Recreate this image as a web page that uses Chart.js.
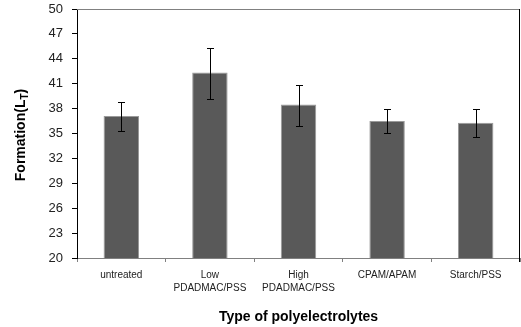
<!DOCTYPE html>
<html>
<head>
<meta charset="utf-8">
<script src="https://cdn.jsdelivr.net/npm/chart.js@4/dist/chart.umd.min.js"></script>
<style>
  html, body { margin: 0; padding: 0; background: #fff; }
  #wrap { width: 521px; height: 327px; }
</style>
</head>
<body>
<div id="wrap"><canvas id="grafico" width="521" height="327"></canvas></div>
<script>
  const categorias = [['untreated'], ['Low', 'PDADMAC/PSS'], ['High', 'PDADMAC/PSS'], ['CPAM/APAM'], ['Starch/PSS']];
  const formacao = [37.1, 42.35, 38.5, 36.5, 36.3];
  const erroMais = [1.7, 3.0, 2.3, 1.4, 1.6];
  const erroMenos = [1.75, 3.25, 2.6, 1.4, 1.75];
  const ticksY = [20, 23, 26, 29, 32, 35, 38, 41, 44, 47, 50];

  const fonte = '"Liberation Sans", Arial, sans-serif';

  // barras de erro e moldura, desenhadas a partir das escalas do Chart.js
  const extras = {
    id: 'extras',
    afterDatasetsDraw(chart) {
      const ctx = chart.ctx;
      const y = chart.scales.y;
      const meta = chart.getDatasetMeta(0);
      ctx.save();
      ctx.strokeStyle = '#000';
      ctx.lineWidth = 1;
      meta.data.forEach((bar, i) => {
        const x = Math.round(bar.x) + 0.5;
        const yTop = Math.round(y.getPixelForValue(formacao[i] + erroMais[i])) + 0.5;
        const yBot = Math.round(y.getPixelForValue(formacao[i] - erroMenos[i])) + 0.5;
        ctx.beginPath();
        ctx.moveTo(x, yTop); ctx.lineTo(x, yBot);
        ctx.moveTo(x - 3.5, yTop); ctx.lineTo(x + 3.5, yTop);
        ctx.moveTo(x - 3.5, yBot); ctx.lineTo(x + 3.5, yBot);
        ctx.stroke();
      });
      ctx.restore();
    },
    afterDraw(chart) {
      const ctx = chart.ctx;
      const a = chart.chartArea;
      ctx.save();
      ctx.lineWidth = 1;
      ctx.strokeStyle = '#808080';
      ctx.beginPath();
      ctx.moveTo(a.left, Math.round(a.top) + 0.5);
      ctx.lineTo(a.right, Math.round(a.top) + 0.5);
      ctx.stroke();
      ctx.strokeStyle = '#000';
      ctx.beginPath();
      ctx.moveTo(Math.round(a.right) - 0.5, a.top);
      ctx.lineTo(Math.round(a.right) - 0.5, a.bottom + 4);
      ctx.stroke();

      // titulo do eixo x
      ctx.fillStyle = '#000';
      ctx.font = 'bold 14px ' + fonte;
      ctx.textAlign = 'center';
      ctx.textBaseline = 'middle';
      ctx.fillText('Type of polyelectrolytes', (a.left + a.right) / 2, 317);

      // titulo do eixo y com indice T
      ctx.translate(20, 135);
      ctx.rotate(-Math.PI / 2);
      const p1 = 'Formation(L', sub = 'T', p2 = ')';
      ctx.font = 'bold 14px ' + fonte;
      const w1 = ctx.measureText(p1).width, w3 = ctx.measureText(p2).width;
      ctx.font = 'bold 10px ' + fonte;
      const w2 = ctx.measureText(sub).width;
      let x0 = -(w1 + w2 + w3) / 2;
      ctx.textAlign = 'left';
      ctx.textBaseline = 'alphabetic';
      ctx.font = 'bold 14px ' + fonte;
      ctx.fillText(p1, x0, 5);
      ctx.font = 'bold 10px ' + fonte;
      ctx.fillText(sub, x0 + w1, 8);
      ctx.font = 'bold 14px ' + fonte;
      ctx.fillText(p2, x0 + w1 + w2, 5);
      ctx.restore();
    }
  };

  new Chart(document.getElementById('grafico'), {
    type: 'bar',
    data: {
      labels: categorias,
      datasets: [{
        label: 'Formation',
        data: formacao,
        backgroundColor: '#595959',
        borderColor: '#9a9a9a',
        borderWidth: 1,
        barPercentage: 0.4,
        categoryPercentage: 1
      }]
    },
    options: {
      responsive: false,
      animation: false,
      layout: { padding: { top: 9, right: 1, left: 0, bottom: 0 } },
      plugins: {
        legend: { display: false },
        tooltip: { enabled: false }
      },
      scales: {
        x: {
          grid: { drawOnChartArea: false, tickLength: 4, color: '#808080', offset: true },
          border: { color: '#808080', width: 1 },
          ticks: {
            color: '#222',
            font: { family: fonte, size: 10, lineHeight: 1.25 },
            padding: 7,
            maxRotation: 0,
            autoSkip: false
          },
          afterFit(scale) { scale.height = 69; scale.paddingLeft = 0; scale.paddingRight = 0; }
        },
        y: {
          min: 20,
          max: 50,
          afterBuildTicks(scale) { scale.ticks = ticksY.map(v => ({ value: v })); },
          grid: { drawOnChartArea: false, tickLength: 5, color: '#000' },
          border: { color: '#000', width: 1 },
          ticks: {
            color: '#222',
            font: { family: fonte, size: 13 },
            padding: 9
          },
          afterFit(scale) { scale.width = 77; scale.paddingTop = 0; scale.paddingBottom = 0; }
        }
      }
    },
    plugins: [extras]
  });
</script>
</body>
</html>
